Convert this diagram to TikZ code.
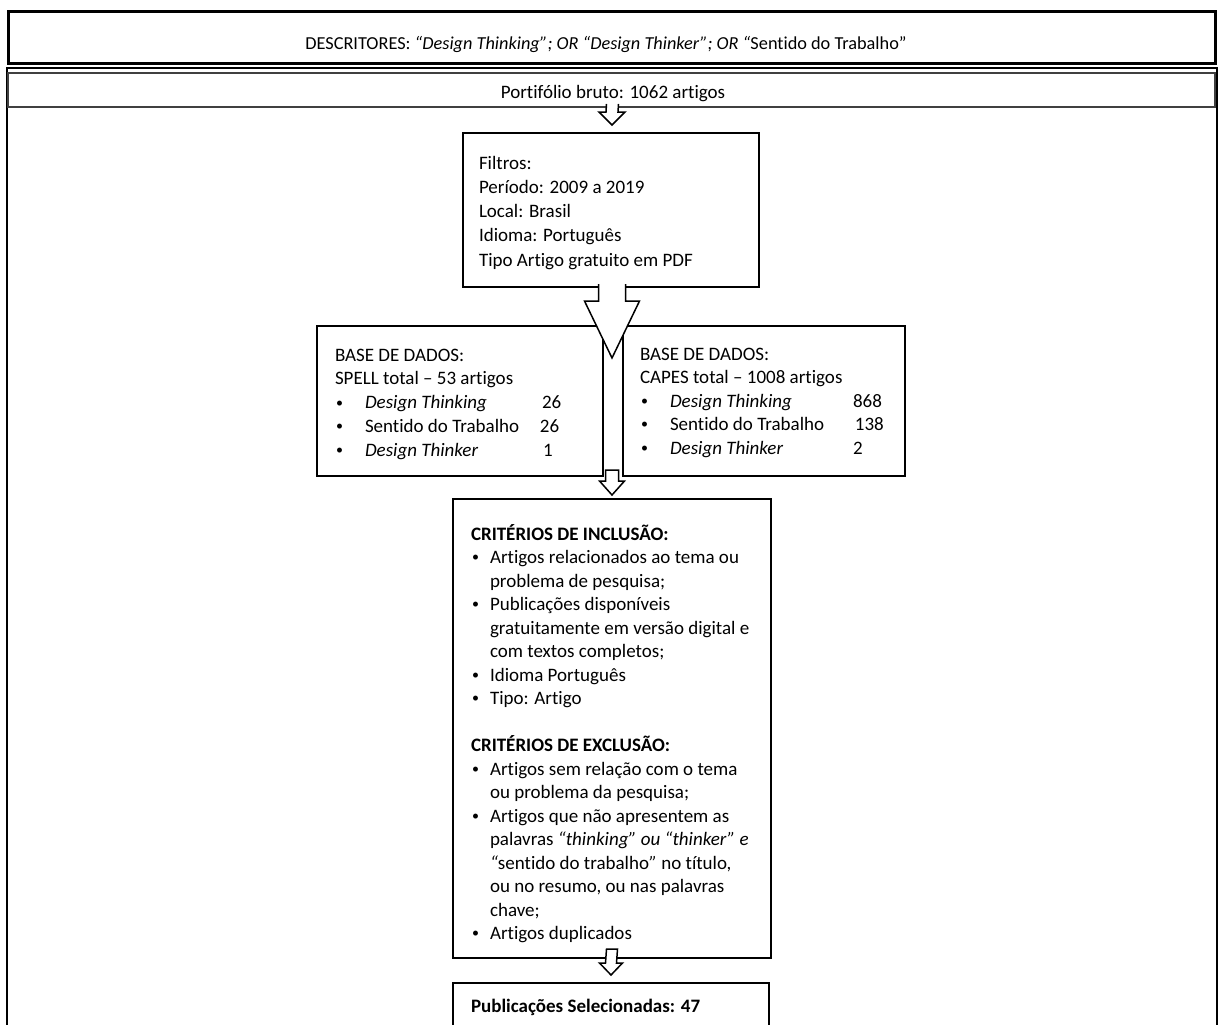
\documentclass[tikz,border=0pt]{standalone}
\usepackage{fontspec}
\setmainfont{Carlito}[Ligatures=NoCommon]
\usetikzlibrary{calc}
\newcommand\Lines[2]{\vtop{\baselineskip=#1\lineskiplimit=-30pt\lineskip=0pt #2}}
\newcommand\tline[1]{\hbox{#1}}
\newcommand\bul{\raisebox{1.6pt}{\fontsize{14}{14}\selectfont •}}
\newcommand\bitem[2]{\hbox{\makebox[#1][l]{\hspace*{1pt}\bul}#2}}
\newcommand\citem[2]{\hbox{\hspace*{#1}#2}}
% open-top block arrow: #1 top, #2 tip, #3 half shaft, #4 half head, #5 head length
\newcommand\openarrow[5]{%
  \fill[white] ($(#1)+(-#3,0)$) -- ($(#2)+(-#3,-#5)$) -- ($(#2)+(-#4,-#5)$) -- (#2) -- ($(#2)+(#4,-#5)$) -- ($(#2)+(#3,-#5)$) -- ($(#1)+(#3,0)$) -- cycle;
  \draw[arrline] ($(#1)+(-#3,0)$) -- ($(#2)+(-#3,-#5)$) -- ($(#2)+(-#4,-#5)$) -- (#2) -- ($(#2)+(#4,-#5)$) -- ($(#2)+(#3,-#5)$) -- ($(#1)+(#3,0)$);}
\newcommand\closedarrow[5]{%
  \filldraw[arrline,fill=white] ($(#1)+(-#3,0)$) -- ($(#2)+(-#3,-#5)$) -- ($(#2)+(-#4,-#5)$) -- (#2) -- ($(#2)+(#4,-#5)$) -- ($(#2)+(#3,-#5)$) -- ($(#1)+(#3,0)$) -- cycle;}
\begin{document}
\begin{tikzpicture}[x=1pt,y=-1pt,
  box/.style={draw=black, line width=1.8pt, inner sep=0pt, outer sep=0pt, anchor=north west},
  txt/.style={inner sep=0pt, outer sep=0pt, anchor=base west, font=\fontsize{19}{24}\selectfont},
  arrline/.style={draw=black, line width=1.5pt, line join=miter}]
\useasboundingbox (0,0) rectangle (1219,1025);
\fill[white] (0,0) rectangle (1219,1025);
% outer frame
\node[box, line width=1.2pt, minimum width=1210pt, minimum height=980pt] (frame) at (7,68) {};
% top boxes
\node[box, line width=3pt, minimum width=1207pt, minimum height=52pt] (desc) at (8,12) {};
\node[box, line width=2pt, draw=black!75, minimum width=1207pt, minimum height=34pt] (port) at (8,73) {};
\node[txt, anchor=base, font=\fontsize{18.3}{22}\selectfont] (desctxt) at (606,50)
  {DESCRITORES: \textit{“Design Thinking”; OR “Design Thinker”; OR “}Sentido do Trabalho”};
\node[txt, anchor=base] (porttxt) at (613,99) {Portifólio bruto: 1062 artigos};
% filter box
\node[box, minimum width=296pt, minimum height=154pt] (filter) at (463,133) {};
\node[txt] (filtxt) at (479,169) {\Lines{24.3pt}{%
  \tline{Filtros:}
  \tline{Período: 2009 a 2019}
  \tline{Local: Brasil}
  \tline{Idioma: Português}
  \tline{Tipo Artigo gratuito em PDF}}};
% database boxes
\node[box, minimum width=286pt, minimum height=150pt] (spell) at (317,326) {};
\node[box, minimum width=282pt, minimum height=150pt] (capes) at (623,326) {};
\node[txt] (spelltxt) at (335,361) {\Lines{23.8pt}{%
  \tline{BASE DE DADOS:}
  \tline{SPELL total – 53 artigos}
  \bitem{30pt}{\makebox[177pt][l]{\textit{Design Thinking}}26}
  \bitem{30pt}{\makebox[175pt][l]{Sentido do Trabalho}26}
  \bitem{30pt}{\makebox[178pt][l]{\textit{Design Thinker}}1}}};
\node[txt] (capestxt) at (640,360) {\Lines{23.5pt}{%
  \tline{BASE DE DADOS:}
  \tline{CAPES total – 1008 artigos}
  \bitem{30pt}{\makebox[183pt][l]{\textit{Design Thinking}}868}
  \bitem{30pt}{\makebox[185pt][l]{Sentido do Trabalho}138}
  \bitem{30pt}{\makebox[183pt][l]{\textit{Design Thinker}}2}}};
% criteria box
\node[box, minimum width=318pt, minimum height=459pt] (crit) at (453,499) {};
\node[txt] (crittxt) at (471,540) {\Lines{23.5pt}{%
  \tline{\textbf{CRITÉRIOS DE INCLUSÃO:}}
  \bitem{19pt}{Artigos relacionados ao tema ou}
  \citem{19pt}{problema de pesquisa;}
  \bitem{19pt}{Publicações disponíveis}
  \citem{19pt}{gratuitamente em versão digital e}
  \citem{19pt}{com textos completos;}
  \bitem{19pt}{Idioma Português}
  \bitem{19pt}{Tipo: Artigo}
  \tline{}
  \tline{\textbf{CRITÉRIOS DE EXCLUSÃO:}}
  \bitem{19pt}{Artigos sem relação com o tema}
  \citem{19pt}{ou problema da pesquisa;}
  \bitem{19pt}{Artigos que não apresentem as}
  \citem{19pt}{palavras \textit{“thinking” ou “thinker” e}}
  \citem{19pt}{\textit{“}sentido do trabalho\textit{”} no título,}
  \citem{19pt}{ou no resumo, ou nas palavras}
  \citem{19pt}{chave;}
  \bitem{19pt}{Artigos duplicados}}};
% final box
\node[box, minimum width=316pt, minimum height=70pt] (sel) at (453,983) {};
\node[txt] (seltxt) at (471,1012) {\textbf{Publicações Selecionadas: 47}};
% block arrows
\coordinate (a1s) at ($(port.south)+(1,-3)$);
\coordinate (a1e) at ($(filter.north)+(1,-8)$);
\openarrow{a1s}{a1e}{6}{13}{13}
\coordinate (a2s) at ($(filter.south)+(1,-3)$);
\coordinate (a2e) at ($(filter.south)+(1,71)$);
\openarrow{a2s}{a2e}{13.5}{27.5}{57}
\coordinate (a3s) at ($(crit.north |- spell.south)+(0,-6)$);
\coordinate (a3e) at ($(crit.north)+(0,-4)$);
\closedarrow{a3s}{a3e}{6.5}{12.5}{14}
\coordinate (a4s) at ($(crit.south)+(0,-9)$);
\coordinate (a4e) at ($(sel.north)+(0,-8)$);
\closedarrow{a4s}{a4e}{5.5}{11.5}{12}
\end{tikzpicture}
\end{document}
